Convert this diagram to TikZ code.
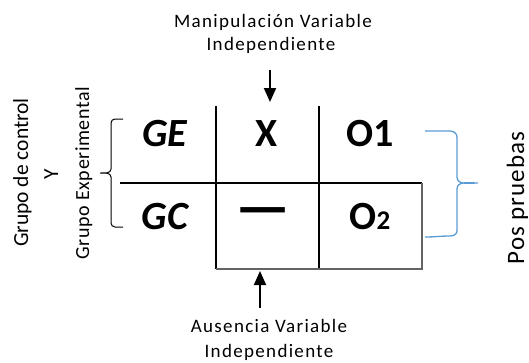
\documentclass[tikz,border=0pt]{standalone}
\usepackage{fontspec}
\setmainfont{Carlito}
\newfontfamily\spacedfont[LetterSpace=7]{Carlito}
\newfontfamily\groupfont[LetterSpace=3]{Carlito}
\newfontfamily\postfont[LetterSpace=4]{Carlito}
\usetikzlibrary{arrows.meta}
\definecolor{gridgray}{RGB}{100,100,100}
\definecolor{braceblue}{RGB}{91,155,213}
\tikzset{
  cell/.style={font=\fontsize{40}{40}\selectfont\bfseries, anchor=base, inner sep=0pt},
  celli/.style={cell, font=\fontsize{40}{40}\selectfont\bfseries\itshape},
  note/.style={font=\fontsize{19}{19}\selectfont\spacedfont, anchor=base, inner sep=0pt},
  side/.style={font=\fontsize{21.5}{21.5}\selectfont, anchor=base, inner sep=0pt, rotate=90},
  gridline/.style={line width=2pt, black},
  frameline/.style={line width=1.6pt, gridgray},
  pointer/.style={line width=2pt, -{Triangle[length=14pt,width=12pt]}},
}
\begin{document}
\begin{tikzpicture}[x=1pt,y=-1pt]
\useasboundingbox (0,0) rectangle (529,362);

% grid corners
\coordinate (v1t) at (216,106);
\coordinate (v1b) at (216,269);
\coordinate (v2t) at (319,106);
\coordinate (v2b) at (319,269);
\coordinate (hl) at (120,183);
\coordinate (hr) at (422,183);
\coordinate (br) at (422,269);

\draw[gridline] (v1t) -- (v1b);
\draw[gridline] (v2t) -- (v2b);
\draw[gridline] (hl) -- (hr);
\draw[frameline] (hr) -- (br) -- (v1b);

% cell contents
\node[celli] (ge) at (165,146) {GE};
\node[cell]  (x)  at (267,146) {X};
\node[cell]  (o1) at (370,146) {O1};
\node[celli] (gc) at (165,229) {GC};
\node[cell, font=\fontsize{42}{42}\selectfont\bfseries] (ng) at (263.5,227.5) {\scalebox{1.45}{—}};
\node[cell]  (o2) at (370,229) {O{\fontsize{27}{27}\selectfont 2}};

% captions above and below
\node[note] (man) at (273,27) {Manipulación Variable};
\node[note] (ind1) at (271,50) {Independiente};
\node[note] (aus) at (269,332) {Ausencia Variable};
\node[note] (ind2) at (269,357) {Independiente};

\coordinate (a1s) at (270,70);
\coordinate (a1e) at (270,102);
\coordinate (a2s) at (260,308);
\coordinate (a2e) at (260,271);
\draw[pointer] (a1s) -- (a1e);
\draw[pointer] (a2s) -- (a2e);

% group labels on the left
\node[side] (gcon) at (28,172.5) {Grupo de control};
\node[side] (y) at (58,174) {Y};
\node[side, font=\fontsize{20}{20}\selectfont\groupfont] (gexp) at (89,173) {Grupo Experimental};

% left brace
\draw[line width=1pt] (123,119) -- (115,119) to[out=180,in=90] (111,123)
  -- (111,169) to[out=-90,in=0] (100,173)
  (100,173) to[out=0,in=90] (111,177) -- (111,223)
  to[out=-90,in=180] (115,227) -- (123,227);

% right brace and post-test label
\draw[braceblue, line width=1.3pt] (425,131) to[out=0,in=180] (450,131)
  to[out=0,in=90] (457,137) -- (457,177) to[out=-90,in=180] (478,183)
  to[out=180,in=90] (457,189) -- (457,231) to[out=-90,in=0] (450,236)
  to[out=180,in=0] (425,237);
\node[side, font=\fontsize{25}{25}\selectfont\postfont] (pos) at (524,198) {Pos pruebas};
\end{tikzpicture}
\end{document}
